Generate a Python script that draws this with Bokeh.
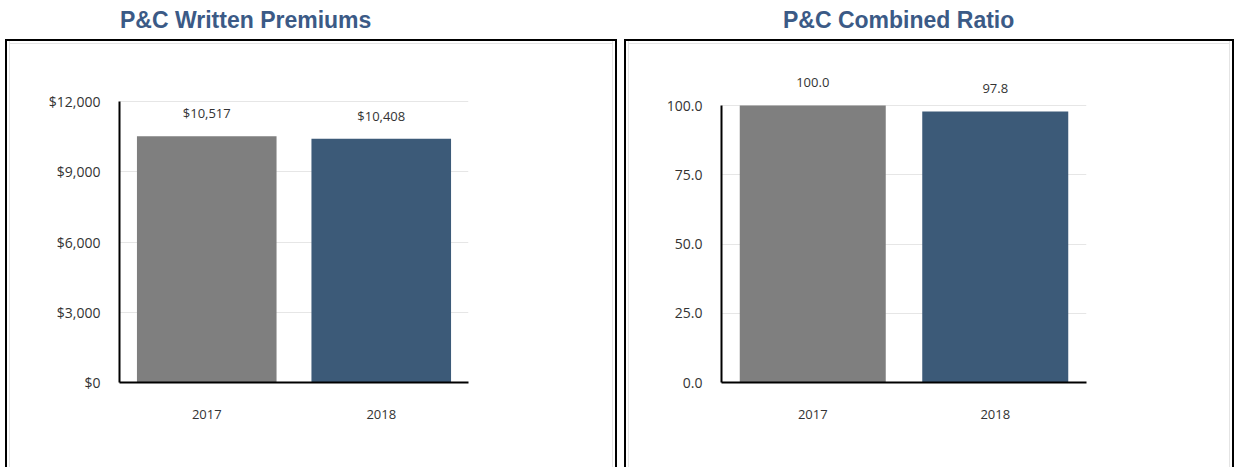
from bokeh.plotting import figure
from bokeh.layouts import row, column
from bokeh.models import (ColumnDataSource, FactorRange, Range1d, LabelSet, Div,
                          NumeralTickFormatter, FixedTicker)
from bokeh.core.properties import value
from bokeh.embed import file_html
from bokeh.resources import INLINE

years = ["2017", "2018"]
premiums = [10517, 10408]
premium_labels = ["$10,517", "$10,408"]
combined_ratio = [100.0, 97.8]
ratio_labels = ["100.0", "97.8"]
bar_colors = ["#7f7f7f", "#3c5a78"]
premium_ticks = [0, 3000, 6000, 9000, 12000]
ratio_ticks = [0, 25, 50, 75, 100]

TICK_FONT = "Open Sans"
TEXT_COLOR = "#333333"
H = 426
FRAME_TOP = 29      # canvas px
FRAME_BOTTOM = 341  # canvas px

INNER_SHADOW = ", ".join([
    "inset 2px 0 0 #ffffff", "inset 3px 0 0 #e4e4e4",
    "inset -2px 0 0 #ffffff", "inset -3px 0 0 #e4e4e4",
    "inset 0 2px 0 #ffffff", "inset 0 3px 0 #e4e4e4",
])


def make_panel(title, values, labels, ticks, fmt, ymax, ymax_px, width,
               frame_left, frame_right, title_pad):
    src = ColumnDataSource(dict(x=years, top=values, label=labels, color=bar_colors))
    # extend the range above the top tick so the value labels fit inside the frame
    y_end = ymax * (FRAME_BOTTOM - FRAME_TOP) / (FRAME_BOTTOM - ymax_px)
    p = figure(x_range=FactorRange(*years), y_range=Range1d(0, y_end),
               width=width, height=H, output_backend="svg", toolbar_location=None,
               min_border_left=frame_left, min_border_right=width - frame_right,
               min_border_top=FRAME_TOP, min_border_bottom=H - FRAME_BOTTOM,
               background_fill_color=None, border_fill_color=None)
    p.outline_line_color = None
    p.x_range.range_padding = 0

    p.vbar(x="x", top="top", width=0.8, fill_color="color", line_color=None, source=src)

    p.add_layout(LabelSet(x="x", y="top", text="label", source=src, y_offset=23,
                          text_align="center", text_baseline="middle",
                          text_font=value(TICK_FONT), text_font_size=value("13px"),
                          text_color=TEXT_COLOR))

    p.xgrid.grid_line_color = None
    p.ygrid.grid_line_color = "#e6e6e6"
    p.ygrid.grid_line_width = 1

    for ax in (p.xaxis[0], p.yaxis[0]):
        ax.axis_line_color = "black"
        ax.axis_line_width = 2
        ax.major_tick_line_color = None
        ax.minor_tick_line_color = None
        ax.major_tick_out = 0
        ax.major_tick_in = 0
        ax.major_label_text_font = TICK_FONT
        ax.major_label_text_color = TEXT_COLOR
    p.yaxis[0].ticker = FixedTicker(ticks=ticks)
    p.yaxis[0].bounds = (0, ymax)
    p.yaxis[0].formatter = NumeralTickFormatter(format=fmt)
    p.yaxis[0].major_label_text_font_size = "14px"
    p.yaxis[0].major_label_standoff = 19
    p.xaxis[0].major_label_text_font_size = "13px"
    p.xaxis[0].major_label_standoff = 27

    head = Div(text=title, width=width + 4, height=39,
               styles={"font-family": "Liberation Sans, Arial, sans-serif",
                       "font-weight": "bold", "font-size": "23px",
                       "line-height": "23px", "color": "#3b5a86",
                       "padding-left": f"{title_pad}px", "padding-top": "9px",
                       "box-sizing": "border-box", "margin": "0"})
    boxed = column(p, styles={"border": "2px solid black", "border-bottom": "none",
                              "box-shadow": INNER_SHADOW})
    return column(head, boxed, spacing=0)


left = make_panel("P&amp;C Written Premiums", premiums, premium_labels, premium_ticks,
                  "$0,0", 12000, 60, 608, 112, 461, 115)
right = make_panel("P&amp;C Combined Ratio", combined_ratio, ratio_labels, ratio_ticks,
                   "0.0", 100, 64, 606, 95, 460, 159)

layout = row(left, right, spacing=7, margin=(0, 0, 0, 5))
open("out.html", "w").write(file_html(layout, INLINE))
